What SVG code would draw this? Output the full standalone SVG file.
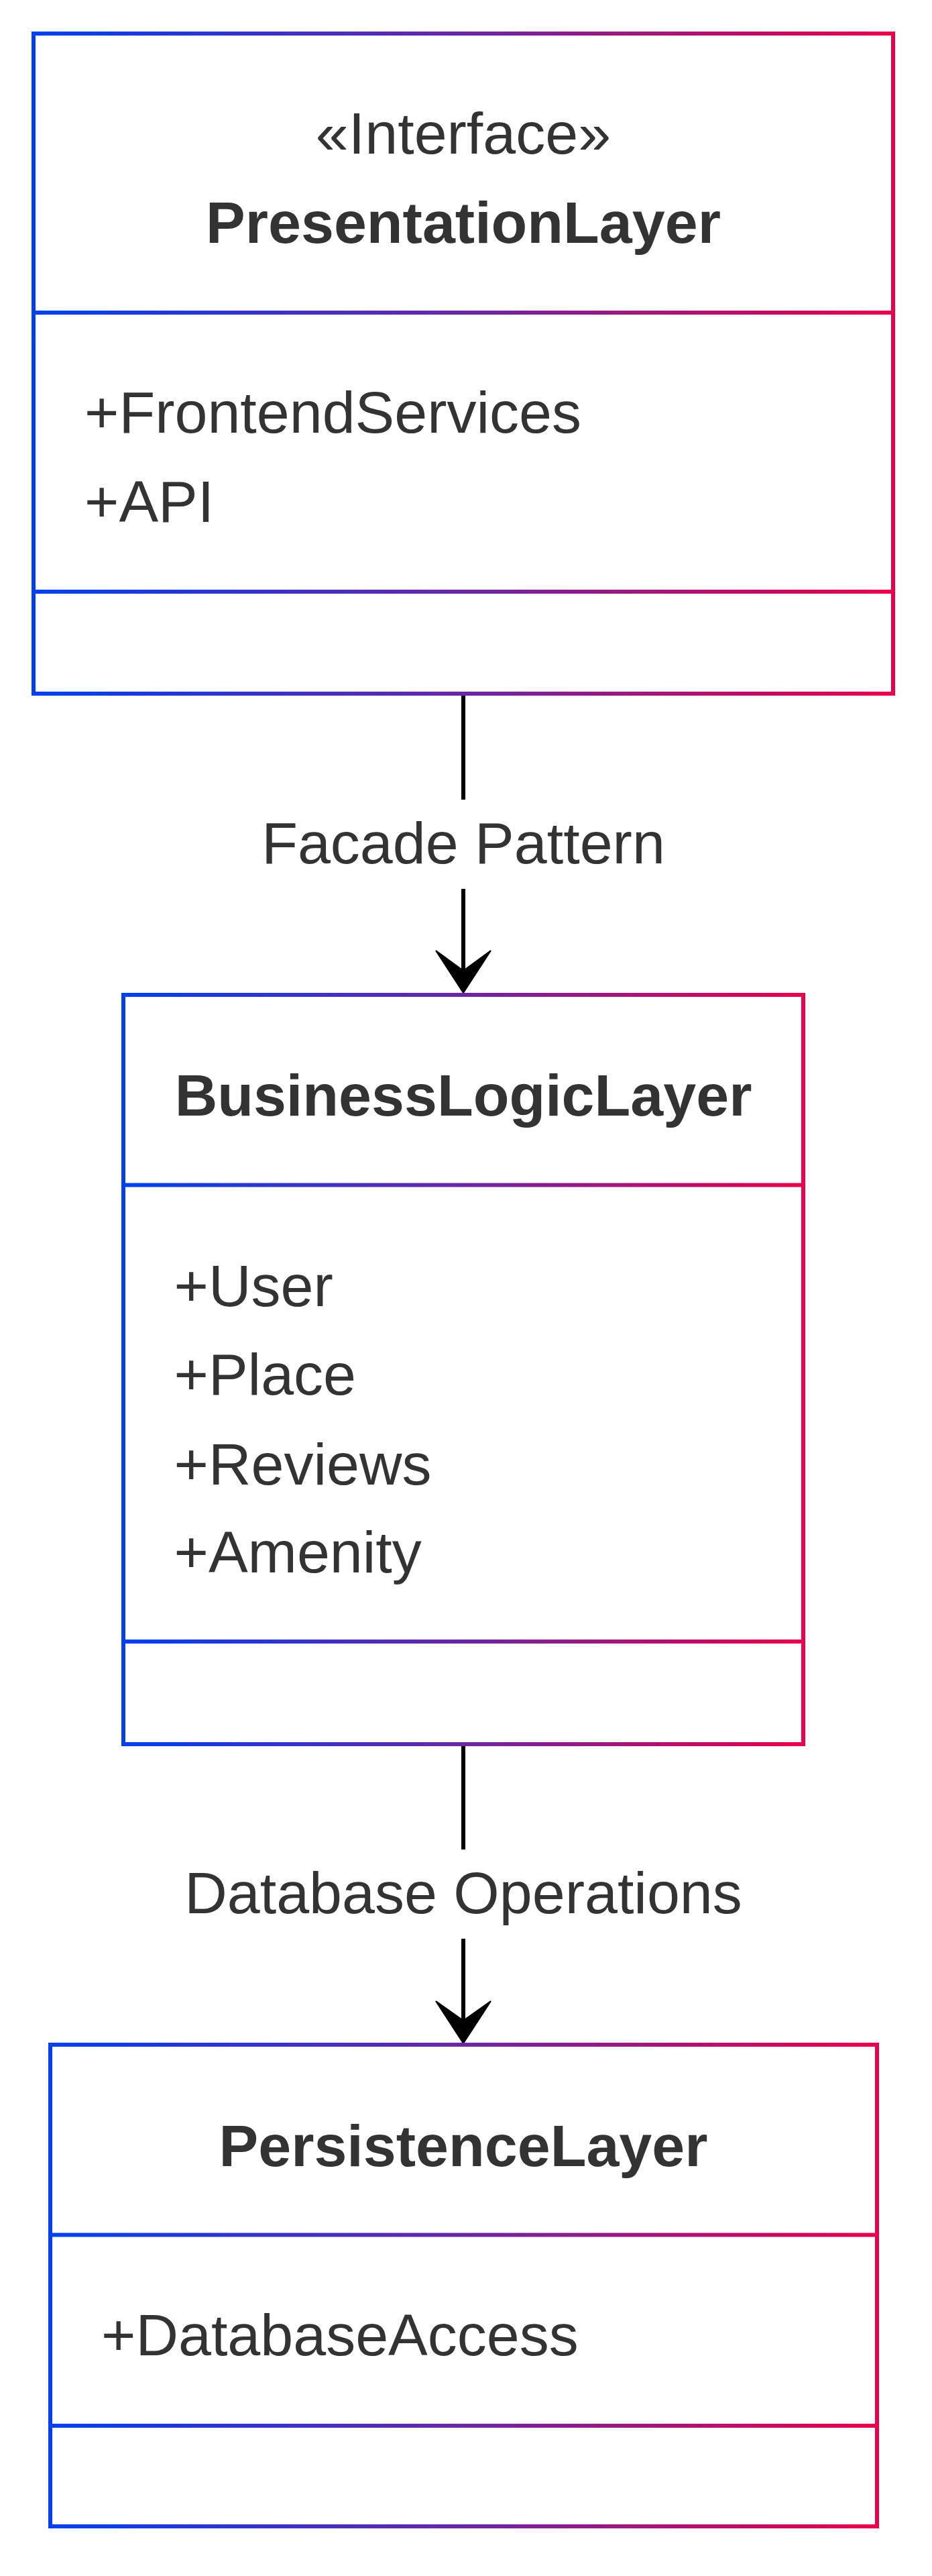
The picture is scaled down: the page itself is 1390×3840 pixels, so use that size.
<svg xmlns="http://www.w3.org/2000/svg" width="1390" height="3840" viewBox="0 0 1390 3840">
  <defs>
    <!-- one horizontal blue-to-red stroke gradient per class box -->
    <linearGradient id="gradPresentation" gradientUnits="userSpaceOnUse" x1="50" y1="0" x2="1332" y2="0">
      <stop offset="0" stop-color="#0040f0"/>
      <stop offset="0.5" stop-color="#6a27a4"/>
      <stop offset="1" stop-color="#e8004a"/>
    </linearGradient>
    <linearGradient id="gradBusiness" gradientUnits="userSpaceOnUse" x1="184" y1="0" x2="1198" y2="0">
      <stop offset="0" stop-color="#0040f0"/>
      <stop offset="0.5" stop-color="#6a27a4"/>
      <stop offset="1" stop-color="#e8004a"/>
    </linearGradient>
    <linearGradient id="gradPersistence" gradientUnits="userSpaceOnUse" x1="75" y1="0" x2="1308" y2="0">
      <stop offset="0" stop-color="#0040f0"/>
      <stop offset="0.5" stop-color="#6a27a4"/>
      <stop offset="1" stop-color="#e8004a"/>
    </linearGradient>
  </defs>
  <style>
    .box { fill: #ffffff; stroke-width: 6; }
    .divider { stroke-width: 6; }
    .title { font-family: "Liberation Sans", Arial, sans-serif; font-size: 88px; font-weight: bold; fill: #333333; text-anchor: middle; }
    .stereo { font-family: "Liberation Sans", Arial, sans-serif; font-size: 88px; fill: #333333; text-anchor: middle; }
    .member { font-family: "Liberation Sans", Arial, sans-serif; font-size: 88px; fill: #333333; }
    .edge { stroke: #000000; stroke-width: 6; fill: none; }
    .head { fill: #000000; stroke: #000000; stroke-width: 2; stroke-linejoin: miter; }
    .edgeLabel { font-family: "Liberation Sans", Arial, sans-serif; font-size: 88px; fill: #333333; text-anchor: middle; }
  </style>

  <rect x="0" y="0" width="1390" height="3840" fill="#ffffff"/>

  <!-- connectors -->
  <g id="connectors">
    <g id="edge-presentation-business">
      <line class="edge" x1="691" y1="1034" x2="691" y2="1192"/>
      <line class="edge" x1="691" y1="1325" x2="691" y2="1450"/>
      <path class="head" d="M650,1417 L691,1480 L732,1417 L691,1447 Z"/>
      <text class="edgeLabel" x="691" y="1287">Facade Pattern</text>
    </g>
    <g id="edge-business-persistence">
      <line class="edge" x1="691" y1="2600" x2="691" y2="2757"/>
      <line class="edge" x1="691" y1="2890" x2="691" y2="3015"/>
      <path class="head" d="M650,2983 L691,3046 L732,2983 L691,3012 Z"/>
      <text class="edgeLabel" x="691" y="2852">Database Operations</text>
    </g>
  </g>

  <!-- PresentationLayer -->
  <g id="PresentationLayer">
    <rect class="box" x="50" y="50" width="1282" height="984" stroke="url(#gradPresentation)"/>
    <line class="divider" x1="50" y1="466" x2="1332" y2="466" stroke="url(#gradPresentation)"/>
    <line class="divider" x1="50" y1="882" x2="1332" y2="882" stroke="url(#gradPresentation)"/>
    <text class="stereo" x="691" y="229">«Interface»</text>
    <text class="title" x="691" y="362">PresentationLayer</text>
    <text class="member" x="126" y="645">+FrontendServices</text>
    <text class="member" x="126" y="778">+API</text>
  </g>

  <!-- BusinessLogicLayer -->
  <g id="BusinessLogicLayer">
    <rect class="box" x="184" y="1483" width="1014" height="1117" stroke="url(#gradBusiness)"/>
    <line class="divider" x1="184" y1="1766.5" x2="1198" y2="1766.5" stroke="url(#gradBusiness)"/>
    <line class="divider" x1="184" y1="2447" x2="1198" y2="2447" stroke="url(#gradBusiness)"/>
    <text class="title" x="691" y="1663">BusinessLogicLayer</text>
    <text class="member" x="259.5" y="1946.5">+User</text>
    <text class="member" x="259.5" y="2079">+Place</text>
    <text class="member" x="259.5" y="2212.5">+Reviews</text>
    <text class="member" x="259.5" y="2343.5">+Amenity</text>
  </g>

  <!-- PersistenceLayer -->
  <g id="PersistenceLayer">
    <rect class="box" x="75" y="3048" width="1233" height="718" stroke="url(#gradPersistence)"/>
    <line class="divider" x1="75" y1="3331.5" x2="1308" y2="3331.5" stroke="url(#gradPersistence)"/>
    <line class="divider" x1="75" y1="3616" x2="1308" y2="3616" stroke="url(#gradPersistence)"/>
    <text class="title" x="691" y="3228.5">PersistenceLayer</text>
    <text class="member" x="151" y="3511">+DatabaseAccess</text>
  </g>
</svg>
